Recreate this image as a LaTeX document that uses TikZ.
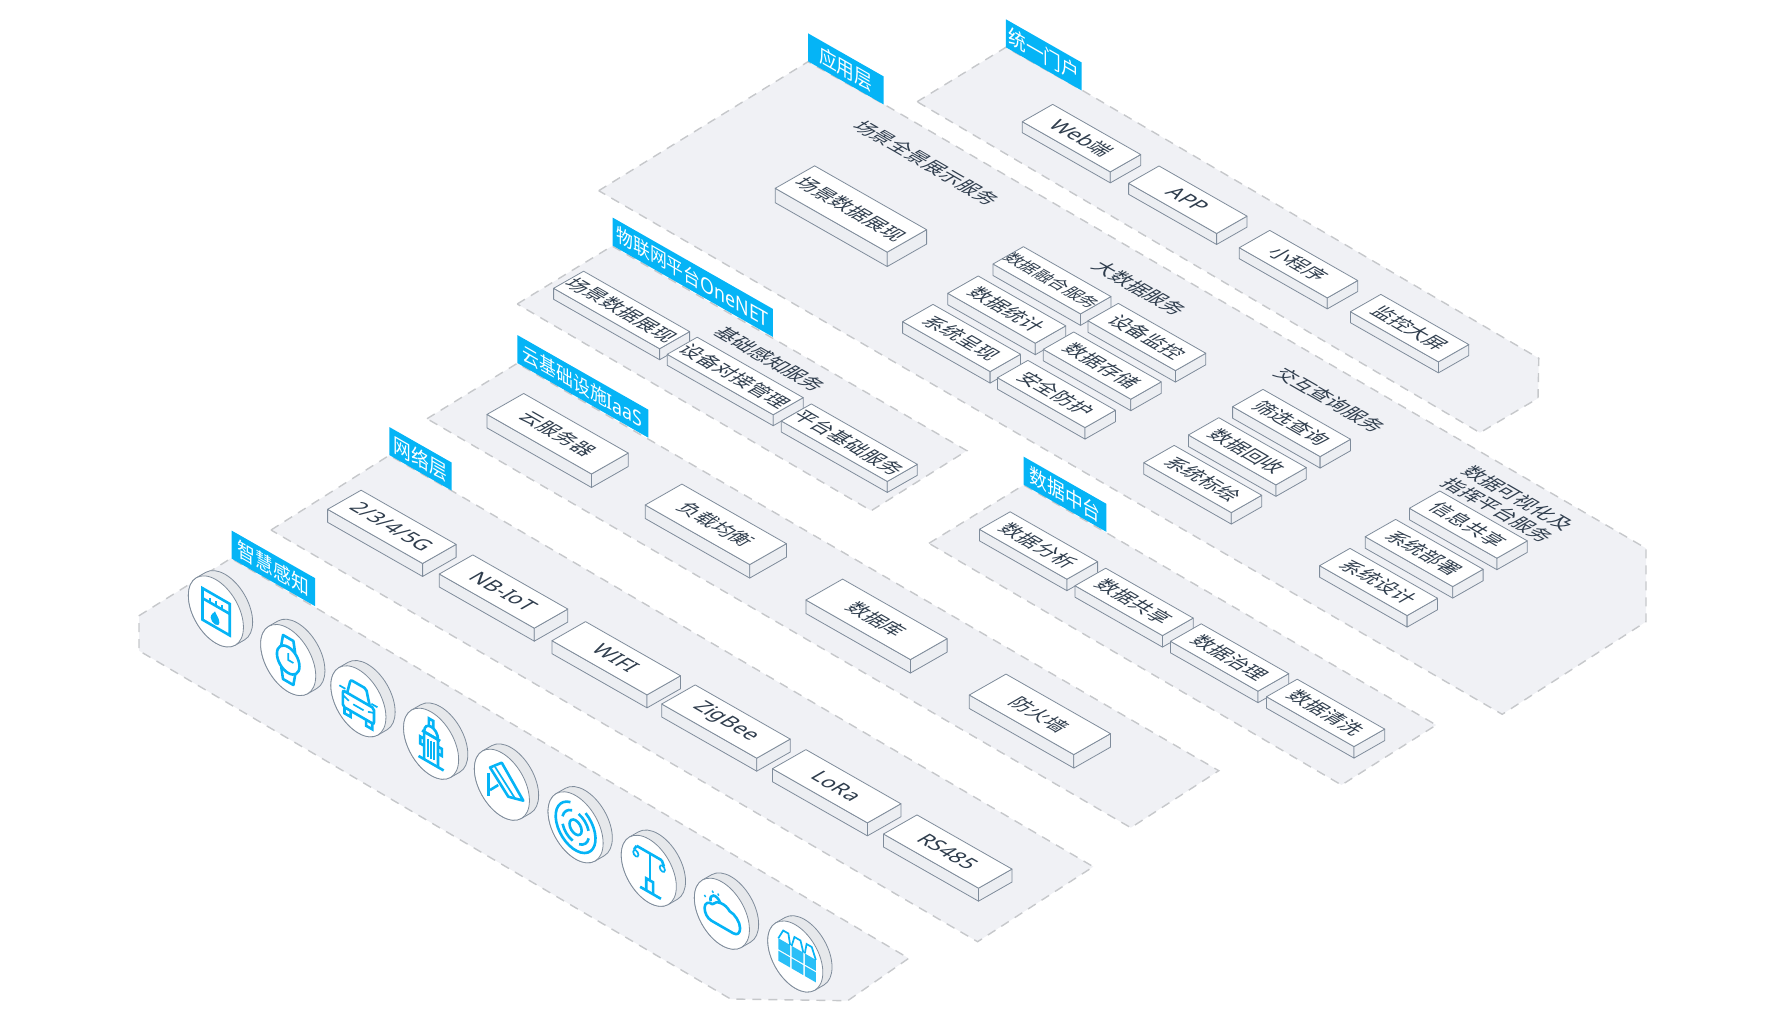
\documentclass[tikz,border=0pt]{standalone}
\usepackage{fontspec}
\setmainfont{Noto Sans CJK SC}
\newfontfamily\latinfont[Scale=1.06]{Noto Sans}
\usetikzlibrary{calc}

\definecolor{flagblue}{HTML}{05B4F6}
\definecolor{panelgray}{HTML}{F0F1F5}
\definecolor{dashgray}{HTML}{C6C8CB}
\definecolor{edgegray}{HTML}{7F8C9B}
\definecolor{sidegray}{HTML}{ECEEF2}
\definecolor{diskgray}{HTML}{E6E8EB}
\definecolor{inkgray}{HTML}{2F3D4D}

\tikzset{
  panel/.style={fill=panelgray,draw=dashgray,line width=1.4pt,dash pattern=on 9pt off 7pt},
  boxtop/.style={fill=white,draw=edgegray,line width=.8pt,line join=round},
  boxside/.style={fill=sidegray,draw=edgegray,line width=.8pt,line join=round},
  boxtext/.style={cm={.866,-.5,.866,.5,(0,0)},text=inkgray,inner sep=0pt,align=center},
  boxtitle/.style={boxtext,font=\fontsize{19.7}{24}\selectfont},
  flagtext/.style={cm={.866,-.5,0,1,(0,0)},text=white,inner sep=0pt},
  icon/.style={draw=flagblue,line width=2.6pt},
  thinicon/.style={draw=flagblue,line width=1.7pt},
  diskside/.style={fill=diskgray,draw=edgegray,line width=.8pt},
  diskface/.style={fill=white,draw=edgegray,line width=.8pt}
}

% name, left corner x y, long edge, short edge, height, text
\newcommand{\isobox}[8][19.7]{
  \coordinate (#2-l) at (#3,#4);
  \coordinate (#2-b) at ($(#2-l)+(#5,#5*.57)$);
  \coordinate (#2-t) at ($(#2-l)+(#6,-#6*.57)$);
  \coordinate (#2-r) at ($(#2-b)+(#6,-#6*.57)$);
  \draw[boxside] (#2-l) -- (#2-b) -- ++(0,#7) -- ($(#2-l)+(0,#7)$) -- cycle;
  \draw[boxside] (#2-b) -- (#2-r) -- ++(0,#7) -- ($(#2-b)+(0,#7)$) -- cycle;
  \draw[boxtop] (#2-l) -- (#2-t) -- (#2-r) -- (#2-b) -- cycle;
  \node[boxtext,font=\fontsize{#1}{22}\selectfont] (#2) at ($(#2-l)!.5!(#2-r)$) {#8};
}

% name, top left x y, width, text
\newcommand{\isoflag}[6][20.5]{
  \coordinate (#2-a) at (#3,#4);
  \coordinate (#2-b) at ($(#2-a)+(#5,#5*.57)$);
  \fill[flagblue] (#2-a) -- (#2-b) -- ++(0,28) -- ($(#2-a)+(0,28)$) -- cycle;
  \node[flagtext,font=\fontsize{#1}{22}\selectfont] (#2) at ($(#2-a)!.5!(#2-b)+(0,14)$) {#6};
}

% center x y, icon drawing
\newcommand{\isodisk}[3]{
  \begin{scope}[shift={(#1,#2)},cm={.866,-.5,0,1,(0,0)}]
    \draw[diskside] (22.5,22.5) -- ++(10.6,-10.6) arc (-45:135:31.8pt) -- (-22.5,-22.5) arc (135:315:31.8pt) -- cycle;
    \draw[diskface] (0,0) circle (31.8pt);
    #3
  \end{scope}
}

\begin{document}
\begin{tikzpicture}[x=1pt,y=-1pt]
\useasboundingbox (0,0) rectangle (1780,1020);

% Panels
\draw[panel] (139,615.7) -- (231,558.3) -- (315,607.3) -- (908.7,958.3) -- (847.7,1000.7) -- (730.6,999) -- (139,650.7) -- cycle;
\draw[panel] (271,530) -- (389.3,455.3) -- (451.7,490.7) -- (1093.3,866.7) -- (977.6,941.7) -- cycle;
\draw[panel] (427,418.7) -- (517.3,363.3) -- (648.1,439) -- (1218.8,770.7) -- (1130.8,827.7) -- cycle;
\draw[panel] (517.2,304) -- (612.1,246) -- (772.9,338.3) -- (966.9,450.7) -- (871.2,510.7) -- cycle;
\draw[panel] (598.7,190.7) -- (808,61.7) -- (883.5,104) -- (1646,548.3) -- (1646,621.7) -- (1502.2,714.3) -- cycle;
\draw[panel] (917.1,101.7) -- (1005.9,47.3) -- (1081.7,90) -- (1538.8,358.3) -- (1538,398.3) -- (1479.9,432.7) -- cycle;
\draw[panel] (928.9,543.3) -- (1023.7,485) -- (1106.3,532.7) -- (1436.2,725) -- (1341.5,785) -- cycle;

% Flags
\isoflag{sense}{231.5}{530.5}{83.5}{智慧感知}
\isoflag{net}{389.3}{427}{62.4}{网络层}
\isoflag[19.4]{iaas}{517.3}{335}{131}{云基础设施{\latinfont IaaS}}
\isoflag[19.4]{iot}{612.5}{217.5}{160.4}{物联网平台{\latinfont OneNET}}
\isoflag{app}{808}{33.3}{75.5}{应用层}
\isoflag{portal}{1005.9}{19.3}{75.8}{统一门户}
\isoflag{mid}{1023.7}{456.7}{82.6}{数据中台}

% Portal
\isobox{web}{1022.3}{121.7}{88}{30.4}{11}{{\latinfont Web}端}
\isobox{mobile}{1128.6}{183.3}{88}{30.4}{11}{{\latinfont APP}}
\isobox{mini}{1239.3}{247.7}{88}{30.4}{11}{小程序}
\isobox{screen}{1350.4}{311.7}{88}{30.4}{11}{监控大屏}

% Application layer
\node[boxtitle] (scenetitle) at (926.7,162.7) {场景全景展示服务};
\isobox{sceneview}{775.2}{188.3}{112}{39.4}{14.4}{场景数据展现}
\node[boxtitle] (bigtitle) at (1139.7,288.3) {大数据服务};
\isobox[17]{fusion}{993}{264}{87.5}{30.4}{11.5}{数据融合服务}
\isobox{monitor}{1087.9}{320.7}{87.5}{30.4}{11.5}{设备监控}
\isobox{stats}{947.8}{293.3}{87.5}{30.4}{11.5}{数据统计}
\isobox{store}{1043.3}{349.3}{87.5}{30.4}{11.5}{数据存储}
\isobox{present}{902.6}{321.7}{87.5}{30.4}{11.5}{系统呈现}
\isobox{safe}{997.5}{377.7}{87.5}{30.4}{11.5}{安全防护}
\node[boxtitle] (querytitle) at (1330.4,400) {交互查询服务};
\isobox{filter}{1232.6}{406.7}{87.5}{30.4}{11.5}{筛选查询}
\isobox{recycle}{1188.4}{435}{87.5}{30.4}{11.5}{数据回收}
\isobox{plot}{1143.8}{462.7}{87.5}{30.4}{11.5}{系统标绘}
\node[boxtitle] (vistitle) at (1508,504) {数据可视化及\\指挥平台服务};
\isobox{share}{1409.4}{508.3}{87.5}{30.4}{11.5}{信息共享}
\isobox{deploy}{1365.2}{536.7}{87.5}{30.4}{11.5}{系统部署}
\isobox{design}{1319.6}{565.7}{87.5}{30.4}{11.5}{系统设计}

% IoT platform
\isobox{iotview}{553.6}{288.3}{106}{30}{11}{场景数据展现}
\node[boxtitle] (iottitle) at (769.8,359.3) {基础感知服务};
\isobox{dock}{667.2}{354.3}{106}{30}{11}{设备对接管理}
\isobox{basic}{781.3}{421}{106}{30}{11}{平台基础服务}

% Data platform
\isobox{analyse}{979.4}{529.3}{87.5}{30.7}{11.5}{数据分析}
\isobox{datashare}{1075}{585.7}{87.5}{30.7}{11.5}{数据共享}
\isobox{govern}{1170.5}{641.3}{87.5}{30.7}{11.5}{数据治理}
\isobox{clean}{1266.5}{696.7}{87.5}{30.7}{11.5}{数据清洗}

% IaaS
\isobox{cloud}{487}{414.4}{104.5}{36.7}{13.5}{云服务器}
\isobox{balance}{645.2}{505}{104.5}{36.7}{13.5}{负载均衡}
\isobox{database}{805.9}{600}{104.5}{36.7}{13.5}{数据库}
\isobox{wall}{969.3}{695}{104.5}{36.7}{13.5}{防火墙}

% Network layer
\isobox{cell}{327.6}{509.3}{95}{33.5}{13}{{\latinfont 2/3/4/5G}}
\isobox{nbiot}{439.3}{574}{95}{33.5}{13}{{\latinfont NB-IoT}}
\isobox{wifi}{552}{640.7}{95}{33.5}{13}{{\latinfont WIFI}}
\isobox{zigbee}{661.7}{704}{95}{33.5}{13}{{\latinfont ZigBee}}
\isobox{lora}{772.4}{768.7}{95}{33.5}{13}{{\latinfont LoRa}}
\isobox{rs}{883.5}{834}{95}{33.5}{13}{{\latinfont RS485}}

% Sensors
\isodisk{215.9}{611.4}{
  \draw[icon] (-15.5,-15.5) rectangle (16,16);
  \draw[icon] (-15.5,-5.5) -- (16,-5.5);
  \foreach \u in {-7,0,7} \draw[thinicon] (\u,-5.5) -- (\u,-10);
  \fill[flagblue] (-1,.5) .. controls (0,3) and (4,5) .. (4,9) .. controls (4,12) and (1.5,13.5) .. (-1,13.5) .. controls (-3.5,13.5) and (-6,12) .. (-6,9) .. controls (-6,5) and (-2,3) .. (-1,.5);
}
\isodisk{288.2}{660}{
  \draw[icon] (0,0) circle (13pt);
  \draw[icon,line join=round] (-8,-11) -- (-6,-22) -- (6,-22) -- (8,-11);
  \draw[icon,line join=round] (-8,11) -- (-6,22) -- (6,22) -- (8,11);
  \draw[thinicon] (0,-7) -- (0,0) -- (6,0);
}
\isodisk{358.4}{701.3}{
  \draw[icon,rounded corners=2pt] (-13,-2) -- (-9,-17) -- (9,-17) -- (13,-2);
  \draw[icon,rounded corners=2pt] (-18,-2) rectangle (18,14);
  \draw[icon] (-16,14) -- (-16,20) -- (-9,20) -- (-9,14);
  \draw[icon] (16,14) -- (16,20) -- (9,20) -- (9,14);
  \draw[thinicon] (-22,-5) -- (-15,-5);
  \draw[thinicon] (22,-5) -- (15,-5);
  \draw[thinicon] (-6,6) -- (6,6);
  \draw[thinicon] (-17,3) -- (-11,5);
  \draw[thinicon] (17,3) -- (11,5);
}
\isodisk{431.1}{743.7}{
  \draw[icon] (-14.5,19.5) -- (14.5,19.5);
  \draw[icon] (-8,19.5) -- (-8,-8) -- (8,-8) -- (8,19.5);
  \draw[icon] (-10.5,-8) -- (10.5,-8);
  \draw[icon] (-8,-8) .. controls (-8,-20) and (8,-20) .. (8,-8);
  \draw[icon] (-2.5,-17) -- (-2.5,-24) -- (2.5,-24) -- (2.5,-17);
  \foreach \u in {-3.5,0,3.5} \draw[thinicon] (\u,-3) -- (\u,15);
  \draw[icon] (-8,-1) -- (-12.5,-1) -- (-12.5,6) -- (-8,6);
  \draw[icon] (8,-1) -- (12.5,-1) -- (12.5,6) -- (8,6);
}
\isodisk{501.9}{784.7}{
  \draw[icon,line join=round] (-13.7,-10.4) -- (-.2,-21.9) -- (24.7,3.6) -- (7.4,8.3) -- cycle;
  \draw[thinicon] (-8,-14) -- (15,6);
  \draw[icon] (-15.7,-3.5) -- (-15.7,19.2);
  \draw[icon] (-13.7,12.2) -- (-4.2,2.4);
}
\isodisk{575.6}{827.3}{
  \draw[icon] (105:23pt) arc (105:420:23pt);
  \foreach \s in {15,105,195,285} \draw[icon] (\s:15.5pt) arc (\s:\s+62:15.5pt);
  \draw[icon] (0,0) circle (7pt);
}
\isodisk{648.8}{870.8}{
  \draw[icon] (-14,-18) -- (15,-18);
  \draw[icon] (1.4,-18) -- (1.4,9);
  \draw[icon] (-3,21) -- (-3,9) -- (5,9) -- (5,21);
  \draw[icon] (-10,21) -- (14,21);
  \draw[thinicon] (-15,-10) circle (3pt);
  \draw[thinicon] (15.6,-10) circle (3pt);
  \draw[icon] (-14,-18) -- (-17,-13);
  \draw[icon] (15,-18) -- (17.5,-13);
}
\isodisk{721.9}{913.7}{
  \draw[icon,line join=round] (-12,13) .. controls (-17,13) and (-20,9) .. (-20,4) .. controls (-20,-1) and (-15,-5) .. (-11,-4) .. controls (-6,-11) and (4,-12) .. (9,-7) .. controls (15,-7) and (21,-2) .. (21,4) .. controls (21,9) and (18,13) .. (13,13) -- cycle;
  \draw[icon] (-13,-6) .. controls (-15,-13) and (-6,-17) .. (-2,-10);
  \fill[flagblue] (-19.5,-8) circle (1.4pt) (-10.6,-16.7) circle (1.4pt) (-4.2,-17) circle (1.4pt);
}
\isodisk{795.3}{956.5}{
  \foreach \l/\r in {-19.6/-6,-4.2/9.3,11/23.7} {
    \fill[flagblue,fill opacity=.85] (\l,-8.5) rectangle (\r,2.5);
    \fill[flagblue,fill opacity=.85] (\l,4) rectangle (\r,14);
  }
  \draw[thinicon] (-19.6,-8.5) -- (-14,-19) -- (-8,-19) -- (-6,-8.5);
  \draw[thinicon] (-4.2,-8.5) -- (-1,-19) -- (6,-19) -- (9.3,-8.5);
  \draw[thinicon] (11,-8.5) -- (13,-19) -- (19,-19) -- (23.7,-8.5);
}
\end{tikzpicture}
\end{document}
